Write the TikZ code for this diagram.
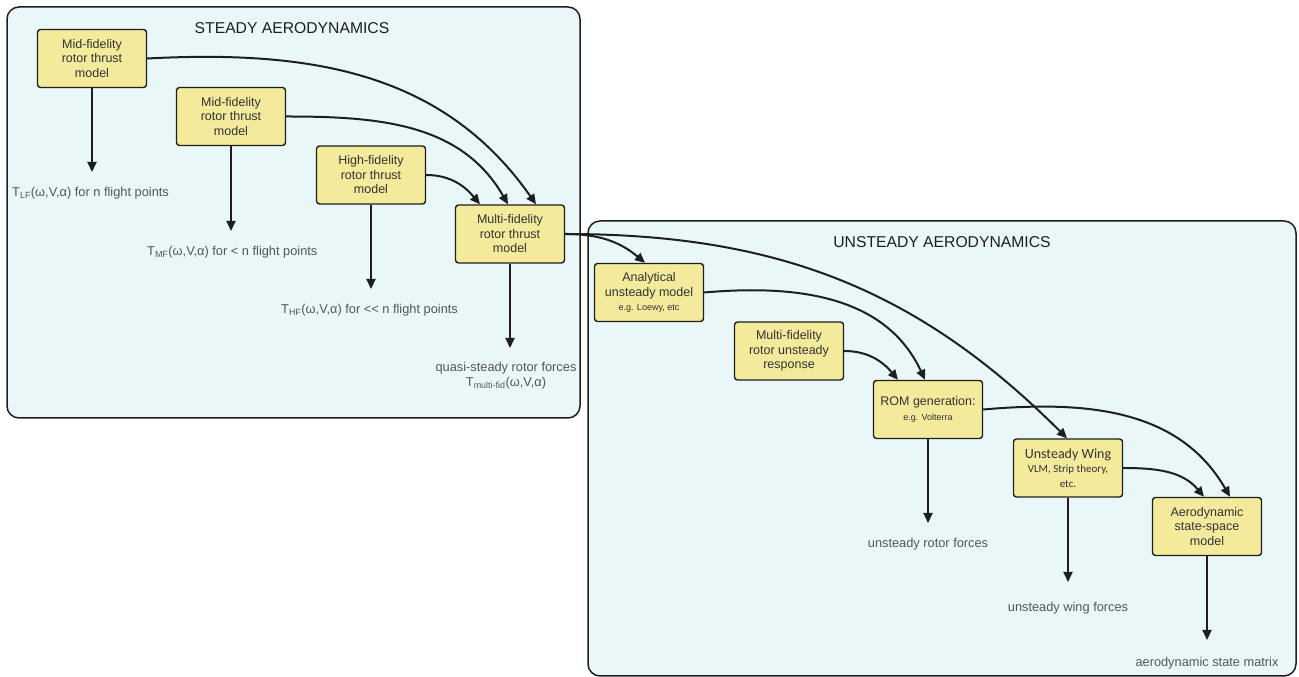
\documentclass[tikz,border=0pt]{standalone}
\usepackage{fontspec}
\setmainfont{Liberation Sans}
\newfontfamily\calib{Carlito}
\usetikzlibrary{arrows.meta}
\definecolor{panel}{HTML}{EAF7F9}
\definecolor{boxfill}{HTML}{F3EA9C}
\definecolor{edge}{HTML}{1E1E1E}
\definecolor{lbl}{HTML}{555555}
\definecolor{boxtxt}{HTML}{333333}
\begin{document}
\begin{tikzpicture}[x=1pt,y=1pt,
 panelbox/.style={draw=edge, line width=1.5pt, fill=panel, rounded corners=12pt},
 model/.style={draw=edge, line width=1.4pt, fill=boxfill, rounded corners=3pt, minimum width=109pt, minimum height=58pt, inner sep=0pt, align=center, text=boxtxt, font=\fontsize{12.5}{14.5}\selectfont},
 flow/.style={line width=2pt, draw=edge, -{Triangle[length=10pt,width=9pt]}},
 result/.style={text=lbl, font=\fontsize{12.8}{15}\selectfont, inner sep=0pt},
 paneltitle/.style={font=\fontsize{15.7}{18}\selectfont, text=edge}]
\useasboundingbox (0,0) rectangle (1299,677);
\draw[panelbox] (7,259) rectangle (580,670);
\draw[panelbox] (588,1) rectangle (1296,456);
\node[paneltitle] (t1) at (292,649) {STEADY AERODYNAMICS};
\node[paneltitle] (t2) at (942,435) {UNSTEADY AERODYNAMICS};

\node[model] (A1) at (92,618.5) {Mid-fidelity\\rotor thrust\\model};
\node[model] (A2) at (231,560.5) {Mid-fidelity\\rotor thrust\\model};
\node[model] (A3) at (371,502) {High-fidelity\\rotor thrust\\model};
\node[model] (M) at (510,443) {Multi-fidelity\\rotor thrust\\model};
\node[model] (An) at (649,384.5) {Analytical\\unsteady model\\{\fontsize{9}{10}\selectfont e.g. Loewy, etc}};
\node[model] (MFU) at (789,326) {Multi-fidelity\\rotor unsteady\\response};
\node[model] (ROM) at (928,267.5) {ROM generation:\\{\fontsize{9}{10}\selectfont e.g. Volterra}};
\node[model] (UW) at (1068,209) {{\calib\fontsize{14}{16}\selectfont Unsteady Wing}\\{\calib\fontsize{11}{13}\selectfont VLM, Strip theory,}\\{\calib\fontsize{11}{13}\selectfont etc.}};
\node[model] (Aero) at (1207,150.5) {Aerodynamic\\state-space\\model};

\node[result, anchor=west] (lf) at (12,484) {T\textsubscript{LF}(ω,V,α) for n flight points};
\node[result, anchor=west] (mf) at (147,425) {T\textsubscript{MF}(ω,V,α) for < n flight points};
\node[result, anchor=west] (hf) at (281,367) {T\textsubscript{HF}(ω,V,α) for <{}< n flight points};
\node[result, align=center] (qs) at (506,301.5) {quasi-steady rotor forces\\T\textsubscript{multi-fid}(ω,V,α)};
\node[result] (urf) at (928,133) {unsteady rotor forces};
\node[result] (uwf) at (1068,69) {unsteady wing forces};
\node[result] (asm) at (1207,14) {aerodynamic state matrix};

\coordinate (e1) at (92,505);
\coordinate (e2) at (231,446);
\coordinate (e3) at (371,388);
\coordinate (e4) at (510,329);
\coordinate (e5) at (928,154);
\coordinate (e6) at (1068,95);
\coordinate (e7) at (1207,37);
\draw[flow] (A1.south) -- (e1);
\draw[flow] (A2.south) -- (e2);
\draw[flow] (A3.south) -- (e3);
\draw[flow] (M.south) -- (e4);
\draw[flow] (ROM.south) -- (e5);
\draw[flow] (UW.south) -- (e6);
\draw[flow] (Aero.south) -- (e7);

\draw[flow] (A1.east) to[out=3,in=125] ([xshift=26pt]M.north);
\draw[flow] (A2.east) to[out=0,in=120] ([xshift=-2pt]M.north);
\draw[flow] (A3.east) to[out=0,in=130] ([xshift=-30pt]M.north);
\draw[flow] (M.east) to[out=0,in=140] ([xshift=-4pt]An.north);
\draw[flow] (M.east) to[out=0,in=135] ([xshift=-1pt]UW.north);
\draw[flow] (An.east) to[out=5,in=115] ([xshift=-3pt]ROM.north);
\draw[flow] (MFU.east) to[out=0,in=130] ([xshift=-30pt]ROM.north);
\draw[flow] (ROM.east) to[out=5,in=120] ([xshift=23pt]Aero.north);
\draw[flow] (UW.east) to[out=0,in=130] ([xshift=-3pt]Aero.north);
\end{tikzpicture}
\end{document}
